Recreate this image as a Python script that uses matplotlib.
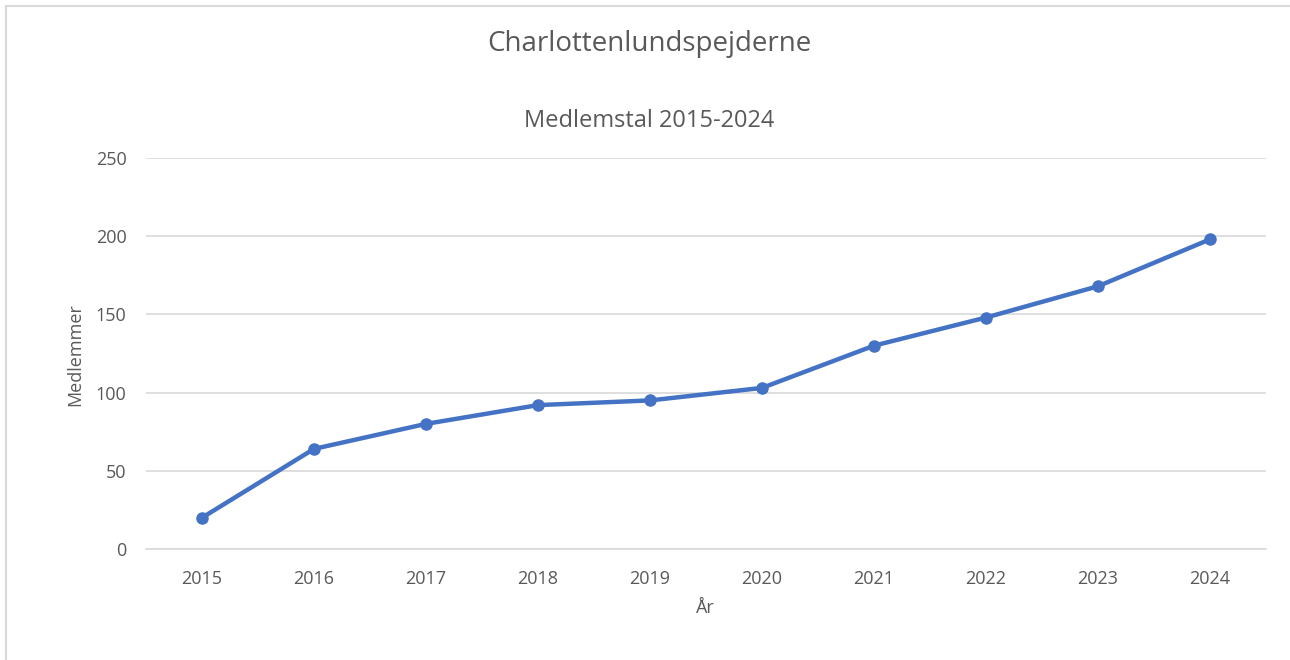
import matplotlib
matplotlib.use('Agg')
import matplotlib.pyplot as plt
from matplotlib.lines import Line2D

plt.rcParams['font.family'] = ['Open Sans', 'DejaVu Sans']

# ================================== data ==================================
years = ['2015', '2016', '2017', '2018', '2019', '2020', '2021', '2022', '2023', '2024']
members = [20, 64, 80, 92, 95, 103, 130, 148, 168, 198]
yticks = [0, 50, 100, 150, 200, 250]

text_col = '#595959'
line_col = '#4472C4'
grid_col = '#D9D9D9'

W, H = 1290, 660
fig = plt.figure(figsize=(W / 100, H / 100), dpi=100)
ax = fig.add_axes([146 / W, 1 - 549 / H, 1120 / W, 391 / H])

x = range(len(years))
ax.plot(x, members, color=line_col, lw=3.2, marker='o', ms=8, zorder=3)

ax.set_xlim(-0.5, len(years) - 0.5)
ax.set_ylim(0, 250)
ax.set_xticks(list(x))
ax.set_xticklabels(years)
ax.set_yticks(yticks)
ax.yaxis.grid(True, color=grid_col, lw=1.2)
ax.set_axisbelow(True)
for s in ax.spines.values():
    s.set_visible(False)
ax.spines['bottom'].set_visible(True)
ax.spines['bottom'].set_color(grid_col)
ax.spines['bottom'].set_linewidth(1.2)
ax.tick_params(length=0, labelsize=13, colors=text_col)
ax.tick_params(axis='x', pad=15)
ax.tick_params(axis='y', pad=14)

# axis titles
fig.text(705 / W, 1 - 608 / H, 'År', fontsize=13, color=text_col, ha='center', va='center')
fig.text(75 / W, 1 - 355 / H, 'Medlemmer', fontsize=13, color=text_col,
         ha='center', va='center', rotation=90)

fig.text(649 / W, 1 - 44 / H, 'Charlottenlundspejderne', fontsize=20,
         color=text_col, ha='center', va='center')
fig.text(649 / W, 1 - 121 / H, 'Medlemstal 2015-2024', fontsize=17,
         color=text_col, ha='center', va='center')

# chart frame (only top and left edges visible)
fig.add_artist(Line2D([6 / W, 6 / W], [0, 1 - 6 / H], color=grid_col, lw=1.5))
fig.add_artist(Line2D([6 / W, 1], [1 - 6 / H, 1 - 6 / H], color=grid_col, lw=1.5))

fig.savefig('out.png', dpi=100)
